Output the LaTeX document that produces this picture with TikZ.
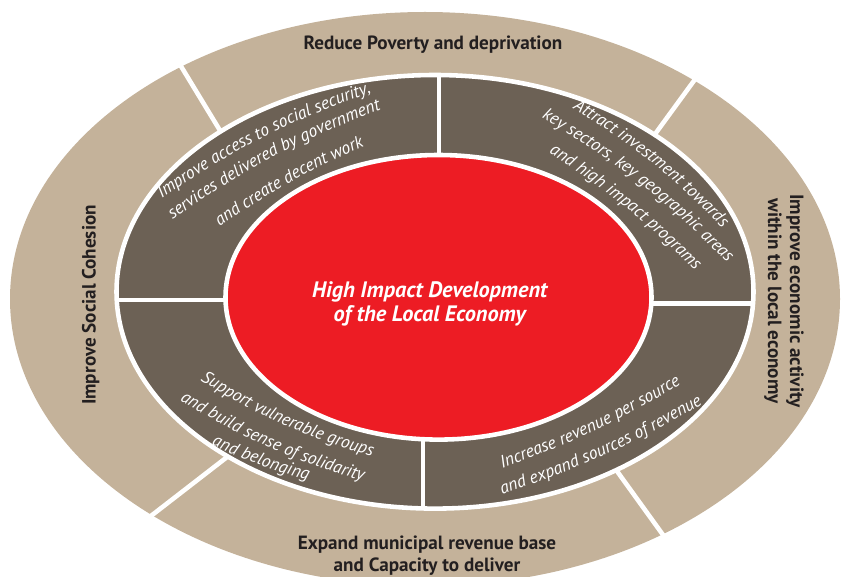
\documentclass[tikz,border=0pt]{standalone}
\usepackage{fontspec}
\setmainfont{PT Sans}
\usetikzlibrary{decorations.text}
\definecolor{ringtan}{RGB}{196,178,154}
\definecolor{ringbrown}{RGB}{108,97,85}
\definecolor{corered}{RGB}{237,28,36}
\definecolor{labelink}{RGB}{35,31,32}

\begin{document}
\begin{tikzpicture}[scale=0.2]
\tikzstyle{every node}+=[inner sep=0pt]
\tikzset{
  gap/.style={white, line width=2.6pt},
  goal/.style={font=\fontsize{10.9}{12.5}\selectfont\bfseries, text=labelink, align=center},
  ringtext/.style={decorate, decoration={text along path, text align=center, text color=white,
    text={|\fontsize{10}{12}\selectfont\itshape|#1}}}
}
\useasboundingbox (0,0) rectangle (84.1,-57.7);
\fill [ringtan] (42.5,-29.9) ellipse (41.5 and 28.7);
\draw [gap] (17.6,-5.8) -- (23.0,-14.7);
\draw [gap] (70.4,-6.7) -- (65.0,-14.1);
\draw [gap] (14.7,-51.9) -- (23.1,-45.4);
\draw [gap] (61.4,-46.7) -- (67.1,-54.6);
\filldraw [fill=ringbrown, draw=white, line width=2.6pt] (43.5,-29.18) ellipse (31.85 and 21.68);
\draw [gap] (43.9,-7.4) -- (43.9,-16.0);
\draw [gap] (11.5,-30.0) -- (23.2,-30.0);
\draw [gap] (64.5,-30.35) -- (75.5,-30.35);
\draw [gap] (42.3,-43.5) -- (42.3,-50.95);
\filldraw [fill=corered, draw=white, line width=2.6pt] (43.85,-29.73) ellipse (21.3 and 14.23);
\node [goal, anchor=base] (poverty) at (43.3,-5.0) {Reduce Poverty and deprivation};
\node [goal, rotate=90] (cohesion) at (9.08,-30.5) {Improve Social Cohesion};
\node [goal, rotate=-90] (activity) at (78.4,-30.1) {Improve economic activity\\within the local economy};
\node [goal] (revenue) at (42.7,-55.6) {Expand municipal revenue base\\and Capacity to deliver};
\node [font=\fontsize{12.7}{14.2}\selectfont\bfseries\itshape, text=white, align=center] (hub) at (42.97,-30.39) {High Impact Development\\of the Local Economy};
\path [ringtext={Improve access to social security,}] (14.8,-20.8) to [bend left=8] (38.7,-8.7);
\path [ringtext={services delivered by government}] (15.7,-23.1) to [bend left=8] (39.9,-10.3);
\path [ringtext={and create decent work}] (20.3,-23.8) to [bend left=6] (38.3,-13.8);
\path [ringtext={Attract investment towards}] (55.75,-9.9) to [bend left=8] (73.45,-24.1);
\path [ringtext={key sectors, key geographic areas}] (52.8,-11.0) to [bend left=8] (73.8,-27.4);
\path [ringtext={and high impact programs}] (53.3,-14.3) to [bend left=7] (70.8,-28.4);
\path [ringtext={Support vulnerable groups}] (18.65,-37.2) to [bend right=8] (38.75,-46.1);
\path [ringtext={and build sense of solidarity}] (17.0,-39.4) to [bend right=8] (37.4,-48.4);
\path [ringtext={and belonging}] (19.95,-43.95) to [bend right=5] (32.05,-48.35);
\path [ringtext={Increase revenue per source}] (48.6,-47.4) to [bend right=6] (69.6,-37.5);
\path [ringtext={and expand sources of revenue}] (48.3,-50.1) to [bend right=6] (72.0,-39.4);
\end{tikzpicture}
\end{document}
